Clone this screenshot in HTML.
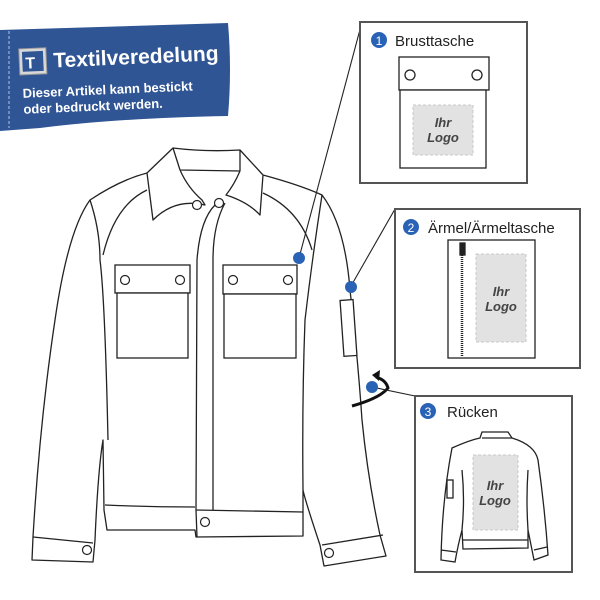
<!DOCTYPE html>
<html><head><meta charset="utf-8"><style>html,body{margin:0;padding:0;background:#fff}svg{display:block}</style></head><body>
<svg width="600" height="600" viewBox="0 0 600 600" xmlns="http://www.w3.org/2000/svg" font-family="Liberation Sans, sans-serif">
<!-- banner -->
<path d="M0,30 L228,23 Q232,70 228,116 Q120,118 40,128 L0,131 Z" fill="#2f5594"/>
<line x1="9" y1="31" x2="9" y2="128" stroke="#8a9fcc" stroke-width="1.5" stroke-dasharray="3,2"/>
<g transform="rotate(-2.5 110 75)">
<rect x="20" y="45" width="27" height="26" fill="#d8d8d8" stroke="#999"/>
<rect x="23" y="48" width="21" height="20" fill="#2f5594"/>
<text x="26" y="65" fill="#fff" font-weight="bold" font-size="16">T</text>
<text x="54" y="65" fill="#fff" font-weight="bold" font-size="21">Textilveredelung</text>
<text x="22" y="94" fill="#fff" font-weight="bold" font-size="13">Dieser Artikel kann bestickt</text>
<text x="22" y="110" fill="#fff" font-weight="bold" font-size="13">oder bedruckt werden.</text>
</g>
<!-- jacket -->
<g fill="#fff" stroke="#222" stroke-width="1.3" stroke-linejoin="round">
<path d="M90,200 Q120,180 147,173 L173,148 Q205,152 240,150 L263,175 Q300,185 322,195 Q345,225 350,290 Q358,360 362,420 Q368,480 380,535 L386,556 L324,566 L320,545 Q305,500 303,490 L303,536 L196,537 L195,530 L107,530 L104,510 L103,440 Q98,470 95,540 L93,562 L32,560 L33,537 Q40,420 55,320 Q68,230 90,200 Z"/>
<path d="M90,200 Q100,230 100,260 Q105,300 108,440" fill="none"/>
<path d="M103,255 Q115,205 147,190" fill="none"/>
<path d="M322,195 Q312,260 305,320 Q302,400 303,490" fill="none"/>
<path d="M263,193 Q300,210 312,250" fill="none"/>
<path d="M33,537 L93,543 M322,545 L383,535" fill="none"/>
<path d="M105,505 Q150,507 195,507 M196,510 L303,512" fill="none"/>
<path d="M197,537 L196,510" fill="none"/>
<!-- placket -->
<path d="M215,205 Q200,220 197,260 L196,510" fill="none"/>
<path d="M225,203 Q213,225 213,260 L213,510" fill="none"/>
<!-- collar -->
<path d="M173,148 L180,170 L240,171 L240,150" fill="none"/>
<path d="M180,170 Q188,188 202,200 L205,205 Q175,198 153,220 L147,173" />
<path d="M240,171 Q234,185 226,195 Q248,202 260,215 L263,175" />
</g>
<g fill="#fff" stroke="#222" stroke-width="1.3">
<rect x="115" y="265" width="75" height="28"/><rect x="117" y="293" width="71" height="65"/>
<rect x="223" y="265" width="74" height="29"/><rect x="224" y="294" width="72" height="64"/>
<rect x="342" y="300" width="13" height="56" transform="rotate(-4 348 328)"/>
</g>
<g fill="#fff" stroke="#222" stroke-width="1.2">
<circle cx="125" cy="280" r="4.5"/><circle cx="180" cy="280" r="4.5"/>
<circle cx="233" cy="280" r="4.5"/><circle cx="288" cy="280" r="4.5"/>
<circle cx="197" cy="205" r="4.5"/><circle cx="219" cy="203" r="4.5"/>
<circle cx="205" cy="522" r="4.5"/><circle cx="87" cy="550" r="4.5"/><circle cx="329" cy="553" r="4.5"/>
</g>
<!-- rotation arrow -->
<path d="M352,406 Q380,398 388,388 Q386,380 376,377" fill="none" stroke="#111" stroke-width="3"/>
<path d="M372,375 L380,370 L379,381 Z" fill="#111"/>
<!-- connectors -->
<g stroke="#222" stroke-width="1.1">
<line x1="299" y1="258" x2="362" y2="22"/><line x1="351" y1="286" x2="395" y2="209"/><line x1="372" y1="387" x2="415" y2="396"/>
</g>
<g fill="#2a63b5"><circle cx="299" cy="258" r="6"/><circle cx="351" cy="287" r="6"/><circle cx="372" cy="387" r="6"/></g>
<!-- panels -->
<g fill="#fff" stroke="#555" stroke-width="2">
<rect x="360" y="22" width="167" height="161"/>
<rect x="395" y="209" width="185" height="159"/>
<rect x="415" y="396" width="157" height="176"/>
</g>
<g font-size="15" fill="#222">
<circle cx="379" cy="40" r="8" fill="#2a63b5"/><text x="379" y="45" font-size="12" fill="#fff" text-anchor="middle">1</text>
<text x="395" y="46">Brusttasche</text>
<circle cx="411" cy="227" r="8" fill="#2a63b5"/><text x="411" y="232" font-size="12" fill="#fff" text-anchor="middle">2</text>
<text x="428" y="233">Ärmel/Ärmeltasche</text>
<circle cx="428" cy="411" r="8" fill="#2a63b5"/><text x="428" y="416" font-size="12" fill="#fff" text-anchor="middle">3</text>
<text x="447" y="417">Rücken</text>
</g>
<g fill="#fff" stroke="#222" stroke-width="1.3">
<rect x="399" y="57" width="90" height="33"/><rect x="400" y="90" width="86" height="78"/>
<circle cx="410" cy="75" r="5"/><circle cx="477" cy="75" r="5"/>
<rect x="448" y="240" width="87" height="118"/>
<line x1="462" y1="245" x2="462" y2="356" stroke-dasharray="1,1" stroke-width="2.5"/>
<rect x="460" y="243" width="5" height="12" fill="#222"/>
<path d="M452,448 Q470,440 480,438 L482,432 L508,432 L512,438 Q535,445 538,460 Q545,510 548,555 L534,560 L528,530 L528,548 L463,549 L462,530 Q458,545 455,562 L441,560 Q442,500 452,448 Z"/>
<path d="M482,438 L512,438 M462,470 Q465,500 462,530 M528,470 Q526,500 528,530 M463,540 L528,540 M441,550 L456,552 M534,550 L547,547" fill="none"/>
<rect x="447" y="480" width="6" height="18"/>
</g>
<g fill="#e2e2e2" stroke="#c8c8c8" stroke-dasharray="3,2">
<rect x="413" y="105" width="60" height="50"/>
<rect x="476" y="254" width="50" height="88"/>
<rect x="473" y="455" width="45" height="75"/>
</g>
<g fill="#444" font-weight="bold" font-style="italic" font-size="13" text-anchor="middle">
<text x="443" y="127">Ihr</text><text x="443" y="142">Logo</text>
<text x="501" y="296">Ihr</text><text x="501" y="311">Logo</text>
<text x="495" y="490">Ihr</text><text x="495" y="505">Logo</text>
</g>
</svg>
</body></html>
